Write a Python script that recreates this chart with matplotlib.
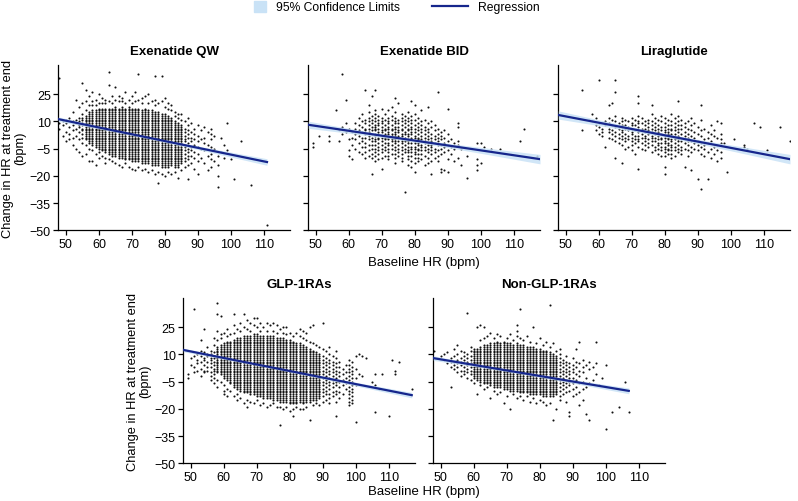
import matplotlib
matplotlib.use("Agg")
import numpy as np
import matplotlib.pyplot as plt
from matplotlib.patches import Patch
from matplotlib.lines import Line2D

plt.rcParams['font.family'] = ['Liberation Sans', 'DejaVu Sans']

# baseline HR (x) -> changes in HR (y), column by column
qw_cols = [
    (48, [34, 9, 6]),
    (49, [10, 8, 2]),
    (50, [11, 9, 4, -1]),
    (51, [12, 7, 3, 0]),
    (52, [15, 10, 8, 5, 1, -3]),
    (53, [22, 11, 9, 6, 2, -5]),
    (54, [18, 12, 10, 8, 7, 4, 0, -7]),
    (55, [31, 20, 14, 12, 11, 9, 8, 6, 5, 3, 1, -2, -9]),
    (56, [27, 21, 16, 13, 12, 11, 10, 9, 8, 7, 6, 5, 4, 3, 2, 1, 0, -3, -8]),
    (57, [24, 19, 15, 14, 13, 12, 11, 10, 9, 8, 7, 6, 5, 4, 3, 2, 1, 0, -1, -2, -5, -12]),
    (58, [26, 21, 19, 16, 15, 14, 13, 12, 11, 10, 9, 8, 7, 6, 5, 4, 3, 2, 1, 0, -1, -2, -3, -6, -12]),
    (59, [22, 19, 16, 15, 14, 13, 12, 11, 10, 9, 8, 7, 6, 5, 4, 3, 2, 1, 0, -1, -2, -3, -4, -8, -14]),
    (60, [25, 20, 17, 16, 15, 14, 13, 12, 11, 10, 9, 8, 7, 6, 5, 4, 3, 2, 1, 0, -1, -2, -3, -4, -5, -7, -10]),
    (61, [23, 20, 17, 16, 15, 14, 13, 12, 11, 10, 9, 8, 7, 6, 5, 4, 3, 2, 1, 0, -1, -2, -3, -4, -5, -6, -9]),
    (62, [22, 20, 17, 16, 15, 14, 13, 12, 11, 10, 9, 8, 7, 6, 5, 4, 3, 2, 1, 0, -1, -2, -3, -4, -5, -6, -7, -10, -13]),
    (63, [37, 30, 21, 17, 16, 15, 14, 13, 12, 11, 10, 9, 8, 7, 6, 5, 4, 3, 2, 1, 0, -1, -2, -3, -4, -5, -6, -7, -8, -11]),
    (64, [24, 20, 17, 16, 15, 14, 13, 12, 11, 10, 9, 8, 7, 6, 5, 4, 3, 2, 1, 0, -1, -2, -3, -4, -5, -6, -7, -8, -9, -12]),
    (65, [29, 22, 18, 17, 16, 15, 14, 13, 12, 11, 10, 9, 8, 7, 6, 5, 4, 3, 2, 1, 0, -1, -2, -3, -4, -5, -6, -7, -8, -9, -13]),
    (66, [24, 21, 17, 16, 15, 14, 13, 12, 11, 10, 9, 8, 7, 6, 5, 4, 3, 2, 1, 0, -1, -2, -3, -4, -5, -6, -7, -8, -9, -10, -14]),
    (67, [23, 21, 18, 17, 16, 15, 14, 13, 12, 11, 10, 9, 8, 7, 6, 5, 4, 3, 2, 1, 0, -1, -2, -3, -4, -5, -6, -7, -8, -9, -10, -15]),
    (68, [26, 20, 17, 16, 15, 14, 13, 12, 11, 10, 9, 8, 7, 6, 5, 4, 3, 2, 1, 0, -1, -2, -3, -4, -5, -6, -7, -8, -9, -10, -11, -13]),
    (69, [22, 18, 17, 16, 15, 14, 13, 12, 11, 10, 9, 8, 7, 6, 5, 4, 3, 2, 1, 0, -1, -2, -3, -4, -5, -6, -7, -8, -9, -10, -11, -15]),
    (70, [24, 20, 17, 16, 15, 14, 13, 12, 11, 10, 9, 8, 7, 6, 5, 4, 3, 2, 1, 0, -1, -2, -3, -4, -5, -6, -7, -8, -9, -10, -11, -12, -16]),
    (71, [26, 21, 17, 16, 15, 14, 13, 12, 11, 10, 9, 8, 7, 6, 5, 4, 3, 2, 1, 0, -1, -2, -3, -4, -5, -6, -7, -8, -9, -10, -11, -12, -17]),
    (72, [36, 22, 17, 16, 15, 14, 13, 12, 11, 10, 9, 8, 7, 6, 5, 4, 3, 2, 1, 0, -1, -2, -3, -4, -5, -6, -7, -8, -9, -10, -11, -12, -15]),
    (73, [23, 20, 16, 15, 14, 13, 12, 11, 10, 9, 8, 7, 6, 5, 4, 3, 2, 1, 0, -1, -2, -3, -4, -5, -6, -7, -8, -9, -10, -11, -12, -13, -17]),
    (74, [24, 17, 16, 15, 14, 13, 12, 11, 10, 9, 8, 7, 6, 5, 4, 3, 2, 1, 0, -1, -2, -3, -4, -5, -6, -7, -8, -9, -10, -11, -12, -13, -16]),
    (75, [25, 20, 16, 15, 14, 13, 12, 11, 10, 9, 8, 7, 6, 5, 4, 3, 2, 1, 0, -1, -2, -3, -4, -5, -6, -7, -8, -9, -10, -11, -12, -13, -18]),
    (76, [21, 16, 15, 14, 13, 12, 11, 10, 9, 8, 7, 6, 5, 4, 3, 2, 1, 0, -1, -2, -3, -4, -5, -6, -7, -8, -9, -10, -11, -12, -13, -14, -17]),
    (77, [35, 22, 19, 15, 14, 13, 12, 11, 10, 9, 8, 7, 6, 5, 4, 3, 2, 1, 0, -1, -2, -3, -4, -5, -6, -7, -8, -9, -10, -11, -12, -13, -14, -19]),
    (78, [20, 15, 14, 13, 12, 11, 10, 9, 8, 7, 6, 5, 4, 3, 2, 1, 0, -1, -2, -3, -4, -5, -6, -7, -8, -9, -10, -11, -12, -13, -14, -18, -24]),
    (79, [35, 21, 14, 13, 12, 11, 10, 9, 8, 7, 6, 5, 4, 3, 2, 1, 0, -1, -2, -3, -4, -5, -6, -7, -8, -9, -10, -11, -12, -13, -14, -15, -19]),
    (80, [23, 18, 14, 13, 12, 11, 10, 9, 8, 7, 6, 5, 4, 3, 2, 1, 0, -1, -2, -3, -4, -5, -6, -7, -8, -9, -10, -11, -12, -13, -14, -15, -20]),
    (81, [20, 17, 13, 12, 11, 10, 9, 8, 7, 6, 5, 4, 3, 2, 1, 0, -1, -2, -3, -4, -5, -6, -7, -8, -9, -10, -11, -12, -13, -14, -15, -18]),
    (82, [19, 16, 12, 11, 10, 9, 8, 7, 6, 5, 4, 3, 2, 1, 0, -1, -2, -3, -4, -5, -6, -7, -8, -9, -10, -11, -12, -13, -14, -19]),
    (83, [15, 13, 10, 9, 8, 7, 6, 5, 4, 3, 2, 1, 0, -1, -2, -3, -4, -5, -6, -7, -8, -9, -10, -11, -12, -13, -14, -15, -18]),
    (84, [14, 12, 9, 8, 7, 6, 5, 4, 3, 2, 1, 0, -1, -2, -3, -4, -5, -6, -7, -8, -9, -10, -11, -12, -13, -14, -15, -21]),
    (85, [14, 11, 8, 7, 6, 5, 4, 3, 2, 1, 0, -1, -2, -3, -4, -5, -6, -7, -8, -9, -10, -11, -12, -13, -17]),
    (86, [10, 6, 4, 2, 0, -1, -3, -4, -6, -8, -10, -12, -15]),
    (87, [12, 8, 5, 3, 1, -2, -5, -7, -9, -11, -14, -22]),
    (88, [9, 4, 1, -1, -4, -6, -9, -13]),
    (89, [6, 3, 0, -3, -7, -10, -16]),
    (90, [8, 2, -1, -4, -8, -12, -19]),
    (91, [5, 0, -5, -10]),
    (92, [7, 1, -2, -6, -13]),
    (93, [4, -3, -9, -17]),
    (94, [6, 3, 0, -4, -8, -11, -15]),
    (95, [2, -5, -12]),
    (96, [-9, -14, -20, -26]),
    (97, [1, -7]),
    (98, [-3, -10]),
    (99, [9, -6]),
    (100, [-11]),
    (101, [-22]),
    (103, [-1]),
    (106, [-25]),
    (111, [-47]),
]

bid_cols = [
    (49, [-2, -4]),
    (51, [2]),
    (54, [2, -1]),
    (56, [16]),
    (57, [5, -1]),
    (58, [36, 7, 3]),
    (59, [22, 9, 4]),
    (60, [6, 0, -6, -9]),
    (61, [4, 1, -3, -11]),
    (62, [9, 6, 3, 0, -5]),
    (63, [12, 8, 5, 2, -2, -7]),
    (64, [14, 10, 7, 4, 1, -1, -4, -8]),
    (65, [27, 11, 9, 6, 5, 3, 1, -2, -4, -7, -10]),
    (66, [19, 15, 12, 10, 8, 6, 4, 2, 0, -3, -6, -9]),
    (67, [24, 13, 11, 9, 7, 5, 3, 1, -1, -3, -5, -8, -10, -19]),
    (68, [27, 16, 14, 12, 10, 8, 7, 6, 5, 3, 2, 0, -1, -3, -5, -7, -9, -12]),
    (69, [13, 11, 9, 8, 6, 4, 3, 1, 0, -2, -4, -6, -8, -11]),
    (70, [17, 12, 10, 9, 7, 5, 4, 2, 1, -1, -3, -5, -7, -10, -16]),
    (71, [14, 11, 8, 6, 5, 3, 1, 0, -2, -4, -6, -9]),
    (72, [16, 12, 10, 9, 7, 6, 4, 3, 1, 0, -2, -3, -5, -7, -9, -11]),
    (73, [18, 13, 11, 8, 6, 5, 3, 2, 0, -1, -3, -5, -8]),
    (74, [23, 15, 12, 10, 9, 7, 6, 4, 3, 2, 0, -1, -2, -4, -6, -8, -10, -13]),
    (75, [20, 11, 9, 7, 5, 4, 2, 1, -1, -3, -5, -7, -9]),
    (76, [14, 12, 10, 8, 6, 5, 3, 2, 0, -1, -2, -4, -6, -8, -10, -12]),
    (77, [13, 11, 9, 7, 4, 3, 1, -1, -3, -5, -7, -29]),
    (78, [15, 12, 10, 8, 6, 5, 3, 2, 0, -1, -2, -4, -6, -7, -9, -11, -14]),
    (79, [21, 13, 11, 9, 7, 6, 4, 3, 1, 0, -2, -4, -5, -7, -9, -12, -15]),
    (80, [19, 14, 11, 8, 6, 4, 2, 1, -1, -2, -4, -5, -7, -8, -10, -13, -18]),
    (81, [12, 9, 7, 5, 3, 1, 0, -2, -3, -5, -6, -8, -10, -12]),
    (82, [16, 10, 8, 6, 4, 2, 0, -1, -3, -4, -6, -8, -11]),
    (83, [11, 7, 5, 3, 1, -1, -2, -4, -6, -9, -14]),
    (84, [18, 9, 6, 4, 2, 0, -2, -3, -5, -7, -10, -13]),
    (85, [10, 7, 3, 1, -1, -3, -4, -6, -8, -12, -19]),
    (86, [8, 5, 2, 0, -2, -5, -7, -10]),
    (87, [26, 6, 3, 1, -1, -3, -6, -9, -12]),
    (88, [4, 2, 0, -3, -5, -8, -16, -18]),
    (89, [5, 1, -2, -4, -7, -17]),
    (90, [17, 3, -1, -3, -6, -11, -18]),
    (91, [0, -4, -8]),
    (92, [-2, -5, -12]),
    (93, [9, 7, -1, -3, -10]),
    (94, [-5, -14]),
    (96, [-9, -21]),
    (99, [-2, -11, -14, -17]),
    (100, [-2, -13]),
    (101, [-4]),
    (103, [-5]),
    (106, [-5]),
    (112, [-1]),
    (113, [6]),
    (117, [-9]),
]

lira_cols = [
    (55, [27, 5]),
    (57, [11]),
    (58, [14, 10]),
    (59, [12, 8, 5]),
    (60, [33, 9, 7, 3]),
    (61, [6, 4, 2]),
    (62, [10, 8, -4]),
    (63, [19, 12, 9, 6, 4, 1]),
    (64, [20, 11, 8, 5, 3, 0]),
    (65, [33, 26, 13, 10, 7, 4, 2, -1, -10]),
    (66, [9, 6, 3, 1, -2]),
    (67, [12, 10, 8, 7, 5, 4, 2, 0, -3, -13]),
    (68, [11, 8, 6, 3, 1, -1, -5]),
    (69, [10, 7, 5, 2, 0, -4]),
    (70, [12, 9, 8, 6, 4, 3, 1, -1, -3, -6]),
    (71, [11, 8, 5, 2, 0, -2, -8]),
    (72, [24, 20, 13, 10, 9, 7, 5, 4, 2, 0, -1, -4, -16]),
    (73, [12, 9, 6, 3, 1, -2, -5]),
    (74, [10, 8, 6, 4, 2, 1, -1, -3, -6]),
    (75, [11, 9, 7, 5, 3, 0, -2, -4]),
    (76, [19, 14, 10, 8, 6, 4, 2, 1, -1, -3, -7]),
    (77, [12, 9, 7, 5, 3, 1, -1, -4, -6]),
    (78, [11, 8, 6, 4, 2, 0, -2, -3, -5, -8]),
    (79, [13, 10, 7, 5, 3, 1, 0, -2, -4, -6, -9]),
    (80, [12, 9, 7, 5, 4, 2, 1, -1, -2, -4, -5, -7, -9, -15, -19]),
    (81, [11, 8, 6, 4, 3, 1, 0, -2, -3, -5, -6, -8]),
    (82, [14, 10, 8, 6, 5, 3, 2, 0, -1, -3, -4, -6, -8, -10]),
    (83, [12, 9, 7, 5, 3, 1, 0, -2, -4, -6, -9]),
    (84, [21, 13, 10, 8, 6, 4, 2, 0, -1, -3, -5, -7]),
    (85, [11, 8, 6, 3, 1, -1, -4, -6, -8]),
    (86, [9, 7, 4, 2, 0, -2, -5, -15]),
    (87, [10, 6, 3, 1, -1, -3, -6, -9]),
    (88, [12, 8, 5, 2, -1, -4, -7, -17]),
    (89, [9, 4, 1, -2, -5]),
    (90, [7, 3, -1, -3, -6, -22]),
    (91, [19, 11, 5, 2, -2, -4, -8, -27]),
    (92, [6, 0, -3, -5, -9]),
    (93, [4, 1, -2, -7, -22]),
    (94, [8, 3, -1, -5, -10]),
    (95, [5, 2, -4, -8]),
    (96, [10, 1, -3, -6, -12]),
    (97, [9, 3, 0, -2, -7, -10]),
    (98, [-2]),
    (99, [-18]),
    (101, [0]),
    (104, [-3, -4]),
    (105, [-5]),
    (107, [9]),
    (109, [7]),
    (111, [-6]),
    (115, [7]),
    (118, [-1]),
]

glp_cols = [
    (49, [-1, -3]),
    (50, [8, 4]),
    (51, [35, 9, 3, 0]),
    (52, [10, 7, 5, 1]),
    (53, [18, 12, 9, 6, 2, -2]),
    (54, [24, 11, 8, 7, 4, 1, 0]),
    (55, [14, 10, 9, 6, 3, 1]),
    (56, [12, 10, 8, 7, 5, 3, 0, -2, -4]),
    (57, [19, 15, 11, 9, 8, 6, 4, 2, 1, -1, -3, -6]),
    (58, [38, 32, 23, 18, 14, 13, 12, 11, 10, 9, 8, 7, 6, 5, 4, 3, 2, 1, 0, -4, -8]),
    (59, [31, 21, 19, 15, 14, 13, 12, 11, 10, 9, 8, 7, 6, 5, 4, 3, 2, 1, 0, -1, -5]),
    (60, [22, 16, 15, 14, 13, 12, 11, 10, 9, 8, 7, 6, 5, 4, 3, 2, 1, 0, -1, -2, -3, -7, -10, -12]),
    (61, [24, 20, 17, 16, 15, 14, 13, 12, 11, 10, 9, 8, 7, 6, 5, 4, 3, 2, 1, 0, -1, -2, -3, -4, -9, -13]),
    (62, [21, 17, 16, 15, 14, 13, 12, 11, 10, 9, 8, 7, 6, 5, 4, 3, 2, 1, 0, -1, -2, -3, -4, -5, -6, -10]),
    (63, [32, 26, 22, 18, 17, 16, 15, 14, 13, 12, 11, 10, 9, 8, 7, 6, 5, 4, 3, 2, 1, 0, -1, -2, -3, -4, -5, -6, -7, -8, -13]),
    (64, [24, 19, 18, 17, 16, 15, 14, 13, 12, 11, 10, 9, 8, 7, 6, 5, 4, 3, 2, 1, 0, -1, -2, -3, -4, -5, -6, -7, -8, -9, -12, -15]),
    (65, [27, 23, 19, 18, 17, 16, 15, 14, 13, 12, 11, 10, 9, 8, 7, 6, 5, 4, 3, 2, 1, 0, -1, -2, -3, -4, -5, -6, -7, -8, -9, -10, -14]),
    (66, [32, 25, 20, 19, 18, 17, 16, 15, 14, 13, 12, 11, 10, 9, 8, 7, 6, 5, 4, 3, 2, 1, 0, -1, -2, -3, -4, -5, -6, -7, -8, -9, -10, -11, -17]),
    (67, [29, 24, 20, 19, 18, 17, 16, 15, 14, 13, 12, 11, 10, 9, 8, 7, 6, 5, 4, 3, 2, 1, 0, -1, -2, -3, -4, -5, -6, -7, -8, -9, -10, -11, -15, -19]),
    (68, [27, 23, 20, 19, 18, 17, 16, 15, 14, 13, 12, 11, 10, 9, 8, 7, 6, 5, 4, 3, 2, 1, 0, -1, -2, -3, -4, -5, -6, -7, -8, -9, -10, -11, -12, -16]),
    (69, [30, 26, 21, 20, 19, 18, 17, 16, 15, 14, 13, 12, 11, 10, 9, 8, 7, 6, 5, 4, 3, 2, 1, 0, -1, -2, -3, -4, -5, -6, -7, -8, -9, -10, -11, -12, -17]),
    (70, [30, 25, 21, 20, 19, 18, 17, 16, 15, 14, 13, 12, 11, 10, 9, 8, 7, 6, 5, 4, 3, 2, 1, 0, -1, -2, -3, -4, -5, -6, -7, -8, -9, -10, -11, -12, -13, -15]),
    (71, [27, 23, 20, 19, 18, 17, 16, 15, 14, 13, 12, 11, 10, 9, 8, 7, 6, 5, 4, 3, 2, 1, 0, -1, -2, -3, -4, -5, -6, -7, -8, -9, -10, -11, -12, -13, -18]),
    (72, [25, 20, 19, 18, 17, 16, 15, 14, 13, 12, 11, 10, 9, 8, 7, 6, 5, 4, 3, 2, 1, 0, -1, -2, -3, -4, -5, -6, -7, -8, -9, -10, -11, -12, -13, -14, -17]),
    (73, [27, 23, 20, 19, 18, 17, 16, 15, 14, 13, 12, 11, 10, 9, 8, 7, 6, 5, 4, 3, 2, 1, 0, -1, -2, -3, -4, -5, -6, -7, -8, -9, -10, -11, -12, -13, -14, -19]),
    (74, [26, 20, 19, 18, 17, 16, 15, 14, 13, 12, 11, 10, 9, 8, 7, 6, 5, 4, 3, 2, 1, 0, -1, -2, -3, -4, -5, -6, -7, -8, -9, -10, -11, -12, -13, -14, -18]),
    (75, [27, 23, 20, 19, 18, 17, 16, 15, 14, 13, 12, 11, 10, 9, 8, 7, 6, 5, 4, 3, 2, 1, 0, -1, -2, -3, -4, -5, -6, -7, -8, -9, -10, -11, -12, -13, -14, -15, -17]),
    (76, [26, 22, 19, 18, 17, 16, 15, 14, 13, 12, 11, 10, 9, 8, 7, 6, 5, 4, 3, 2, 1, 0, -1, -2, -3, -4, -5, -6, -7, -8, -9, -10, -11, -12, -13, -14, -15, -19]),
    (77, [24, 19, 18, 17, 16, 15, 14, 13, 12, 11, 10, 9, 8, 7, 6, 5, 4, 3, 2, 1, 0, -1, -2, -3, -4, -5, -6, -7, -8, -9, -10, -11, -12, -13, -14, -15, -16, -19, -29]),
    (78, [25, 22, 19, 18, 17, 16, 15, 14, 13, 12, 11, 10, 9, 8, 7, 6, 5, 4, 3, 2, 1, 0, -1, -2, -3, -4, -5, -6, -7, -8, -9, -10, -11, -12, -13, -14, -15, -16, -20]),
    (79, [25, 21, 18, 17, 16, 15, 14, 13, 12, 11, 10, 9, 8, 7, 6, 5, 4, 3, 2, 1, 0, -1, -2, -3, -4, -5, -6, -7, -8, -9, -10, -11, -12, -13, -14, -15, -16, -19]),
    (80, [22, 18, 17, 16, 15, 14, 13, 12, 11, 10, 9, 8, 7, 6, 5, 4, 3, 2, 1, 0, -1, -2, -3, -4, -5, -6, -7, -8, -9, -10, -11, -12, -13, -14, -15, -16, -17, -21]),
    (81, [20, 17, 16, 15, 14, 13, 12, 11, 10, 9, 8, 7, 6, 5, 4, 3, 2, 1, 0, -1, -2, -3, -4, -5, -6, -7, -8, -9, -10, -11, -12, -13, -14, -15, -16, -17, -20, -24]),
    (82, [22, 16, 15, 14, 13, 12, 11, 10, 9, 8, 7, 6, 5, 4, 3, 2, 1, 0, -1, -2, -3, -4, -5, -6, -7, -8, -9, -10, -11, -12, -13, -14, -15, -16, -17, -19]),
    (83, [24, 20, 16, 15, 14, 13, 12, 11, 10, 9, 8, 7, 6, 5, 4, 3, 2, 1, 0, -1, -2, -3, -4, -5, -6, -7, -8, -9, -10, -11, -12, -13, -14, -15, -16, -20]),
    (84, [23, 19, 15, 14, 13, 12, 11, 10, 9, 8, 7, 6, 5, 4, 3, 2, 1, 0, -1, -2, -3, -4, -5, -6, -7, -8, -9, -10, -11, -12, -13, -14, -15, -16, -17, -20]),
    (85, [22, 18, 14, 13, 12, 11, 10, 9, 8, 7, 6, 5, 4, 3, 2, 1, 0, -1, -2, -3, -4, -5, -6, -7, -8, -9, -10, -11, -12, -13, -14, -15, -16, -19]),
    (86, [25, 17, 13, 12, 11, 10, 9, 8, 7, 6, 5, 4, 3, 2, 1, 0, -1, -2, -3, -4, -5, -6, -7, -8, -9, -10, -11, -12, -13, -14, -15, -16, -26]),
    (87, [26, 16, 12, 11, 10, 9, 8, 7, 6, 5, 4, 3, 2, 1, 0, -1, -2, -3, -4, -5, -6, -7, -8, -9, -10, -11, -12, -13, -14, -15, -18]),
    (88, [15, 11, 10, 9, 8, 7, 6, 5, 4, 3, 2, 1, 0, -1, -2, -3, -4, -5, -6, -7, -8, -9, -10, -11, -12, -13, -14, -15, -17]),
    (89, [14, 10, 9, 8, 7, 6, 5, 4, 3, 2, 1, 0, -1, -2, -3, -4, -5, -6, -7, -8, -9, -10, -11, -12, -13, -14, -18]),
    (90, [27, 13, 9, 7, 5, 3, 1, -1, -3, -5, -7, -9, -11, -13, -16]),
    (91, [12, 8, 6, 4, 2, 0, -2, -4, -6, -8, -10, -12, -15]),
    (92, [14, 10, 7, 5, 3, 1, -1, -3, -5, -7, -9, -12, -14, -17]),
    (93, [9, 6, 4, 2, 0, -2, -4, -6, -8, -11, -13]),
    (94, [12, 8, 5, 3, 1, -1, -3, -5, -7, -10, -12, -16, -24]),
    (95, [6, 3, 0, -2, -5, -8, -11, -14]),
    (96, [2, -1, -4, -7, -12]),
    (97, [4, 0, -3, -6, -9]),
    (98, [7, 4, 2, 0, -2, -4, -6, -8, -10, -12, -14, -16, -18]),
    (99, [6, 3, 1, -1, -3, -5, -7, -9, -11, -13, -15, -17]),
    (100, [9, 2, -3, -7, -27]),
    (101, [10, -1]),
    (102, [9, -2]),
    (103, [8]),
    (105, [-5]),
    (106, [-1, -7, -22]),
    (107, [-9]),
    (108, [-1]),
    (110, [-24]),
    (111, [7]),
    (112, [1, -1]),
    (113, [6]),
    (117, [-9]),
]

non_cols = [
    (48, [12]),
    (50, [9]),
    (51, [10, 7]),
    (52, [11, 5]),
    (53, [8, 6, 3, -8]),
    (54, [13, 9, 6, 4, 2]),
    (55, [15, 10, 7, 5, 3, 0]),
    (56, [12, 8, 6, 4, 1, -2]),
    (57, [11, 9, 7, 5, 3, 1, -1]),
    (58, [33, 10, 8, 6, 4, 2, 0, -3]),
    (59, [14, 12, 9, 7, 5, 3, 1, -1, -4]),
    (60, [13, 12, 11, 10, 9, 8, 7, 6, 5, 4, 3, 2, 1, 0, -1, -2, -3, -6]),
    (61, [25, 13, 12, 11, 10, 9, 8, 7, 6, 5, 4, 3, 2, 1, 0, -1, -2, -3, -4, -12]),
    (62, [26, 18, 14, 13, 12, 11, 10, 9, 8, 7, 6, 5, 4, 3, 2, 1, 0, -1, -2, -3, -4, -5, -7]),
    (63, [25, 19, 15, 14, 13, 12, 11, 10, 9, 8, 7, 6, 5, 4, 3, 2, 1, 0, -1, -2, -3, -4, -5, -6, -9]),
    (64, [20, 15, 14, 13, 12, 11, 10, 9, 8, 7, 6, 5, 4, 3, 2, 1, 0, -1, -2, -3, -4, -5, -6, -8]),
    (65, [22, 16, 15, 14, 13, 12, 11, 10, 9, 8, 7, 6, 5, 4, 3, 2, 1, 0, -1, -2, -3, -4, -5, -6, -7, -14]),
    (66, [19, 16, 15, 14, 13, 12, 11, 10, 9, 8, 7, 6, 5, 4, 3, 2, 1, 0, -1, -2, -3, -4, -5, -6, -7, -8, -10]),
    (67, [21, 17, 16, 15, 14, 13, 12, 11, 10, 9, 8, 7, 6, 5, 4, 3, 2, 1, 0, -1, -2, -3, -4, -5, -6, -7, -8, -12]),
    (68, [20, 16, 15, 14, 13, 12, 11, 10, 9, 8, 7, 6, 5, 4, 3, 2, 1, 0, -1, -2, -3, -4, -5, -6, -7, -8, -11]),
    (69, [17, 16, 15, 14, 13, 12, 11, 10, 9, 8, 7, 6, 5, 4, 3, 2, 1, 0, -1, -2, -3, -4, -5, -6, -7, -8, -9, -17]),
    (70, [19, 16, 15, 14, 13, 12, 11, 10, 9, 8, 7, 6, 5, 4, 3, 2, 1, 0, -1, -2, -3, -4, -5, -6, -7, -8, -9, -13]),
    (71, [21, 16, 15, 14, 13, 12, 11, 10, 9, 8, 7, 6, 5, 4, 3, 2, 1, 0, -1, -2, -3, -4, -5, -6, -7, -8, -9, -10, -20]),
    (72, [18, 15, 14, 13, 12, 11, 10, 9, 8, 7, 6, 5, 4, 3, 2, 1, 0, -1, -2, -3, -4, -5, -6, -7, -8, -9, -10, -12]),
    (73, [26, 23, 20, 16, 15, 14, 13, 12, 11, 10, 9, 8, 7, 6, 5, 4, 3, 2, 1, 0, -1, -2, -3, -4, -5, -6, -7, -8, -9, -10, -14]),
    (74, [35, 19, 15, 14, 13, 12, 11, 10, 9, 8, 7, 6, 5, 4, 3, 2, 1, 0, -1, -2, -3, -4, -5, -6, -7, -8, -9, -10, -11, -13]),
    (75, [18, 15, 14, 13, 12, 11, 10, 9, 8, 7, 6, 5, 4, 3, 2, 1, 0, -1, -2, -3, -4, -5, -6, -7, -8, -9, -10, -11, -15]),
    (76, [20, 14, 13, 12, 11, 10, 9, 8, 7, 6, 5, 4, 3, 2, 1, 0, -1, -2, -3, -4, -5, -6, -7, -8, -9, -10, -11, -13]),
    (77, [17, 14, 13, 12, 11, 10, 9, 8, 7, 6, 5, 4, 3, 2, 1, 0, -1, -2, -3, -4, -5, -6, -7, -8, -9, -10, -11, -12, -16]),
    (78, [25, 14, 13, 12, 11, 10, 9, 8, 7, 6, 5, 4, 3, 2, 1, 0, -1, -2, -3, -4, -5, -6, -7, -8, -9, -10, -11, -12, -14]),
    (79, [16, 13, 12, 11, 10, 9, 8, 7, 6, 5, 4, 3, 2, 1, 0, -1, -2, -3, -4, -5, -6, -7, -8, -9, -10, -11, -12, -17]),
    (80, [19, 13, 12, 11, 10, 9, 8, 7, 6, 5, 4, 3, 2, 1, 0, -1, -2, -3, -4, -5, -6, -7, -8, -9, -10, -11, -12, -15]),
    (81, [15, 12, 11, 10, 9, 8, 7, 6, 5, 4, 3, 2, 1, 0, -1, -2, -3, -4, -5, -6, -7, -8, -9, -10, -11, -12, -13, -16]),
    (82, [17, 12, 11, 10, 9, 8, 7, 6, 5, 4, 3, 2, 1, 0, -1, -2, -3, -4, -5, -6, -7, -8, -9, -10, -11, -12, -13, -18]),
    (83, [37, 14, 11, 10, 9, 8, 7, 6, 5, 4, 3, 2, 1, 0, -1, -2, -3, -4, -5, -6, -7, -8, -9, -10, -11, -12, -13, -17]),
    (84, [16, 10, 9, 8, 7, 6, 5, 4, 3, 2, 1, 0, -1, -2, -3, -4, -5, -6, -7, -8, -9, -10, -11, -12, -13, -26]),
    (85, [12, 9, 8, 7, 6, 5, 4, 3, 2, 1, 0, -1, -2, -3, -4, -5, -6, -7, -8, -9, -10, -11, -12, -20]),
    (86, [13, 10, 8, 6, 4, 2, 0, -2, -4, -6, -8, -10, -13, -15]),
    (87, [7, 5, 3, 1, -1, -3, -5, -7, -9, -12]),
    (88, [9, 6, 4, 2, 0, -2, -4, -6, -8, -11, -16]),
    (89, [5, 3, 1, -1, -3, -5, -7, -10, -22, -24]),
    (90, [8, 4, 2, 0, -3, -6, -9, -13]),
    (91, [13, 6, 3, -1, -4, -8, -12]),
    (92, [17, 5, 1, -2, -6, -11, -18]),
    (93, [7, 3, 0, -5, -9, -15]),
    (94, [4, -3, -8, -23]),
    (95, [6, 2, -6, -26]),
    (96, [3, -4]),
    (97, [17, 5, -1]),
    (98, [-7]),
    (99, [-3]),
    (100, [4, -31]),
    (102, [-22]),
    (104, [-19]),
    (106, [-5]),
    (107, [-22]),
]

titles = ["Exenatide QW", "Exenatide BID", "Liraglutide", "GLP-1RAs", "Non-GLP-1RAs"]
panels = [qw_cols, bid_cols, lira_cols, glp_cols, non_cols]

# regression fits (intercept, slope) and their x extent
reg_intercept = [29.0, 20.93, 30.0, 29.52, 22.4]
reg_slope = [-0.373, -0.269, -0.346, -0.359, -0.304]
reg_xmin = [47.7, 47.7, 47.7, 47.7, 47.7]
reg_xmax = [111, 118, 118, 117, 107]
# 95% CL half widths: at the centre of the data and at the right end
ci_center = [72, 77, 80, 74, 73]
ci_mid = [0.6, 0.9, 1.0, 0.5, 0.6]
ci_end = [1.8, 2.6, 2.6, 1.5, 1.6]

x_ticks = [50, 60, 70, 80, 90, 100, 110]
y_ticks = [-50, -35, -20, -5, 10, 25]

band_color = "#c9e2f6"
line_color = "#16268c"

fig = plt.figure(figsize=(7.98, 5.02), dpi=100)
W, H = 0.2904, 0.3293
boxes = [
    [0.0731, 0.5392, W, H],
    [0.3863, 0.5392, W, H],
    [0.6996, 0.5392, W, H],
    [0.2297, 0.0751, W, H],
    [0.5430, 0.0751, W, H],
]

axes = []
for i, cols in enumerate(panels):
    ax = fig.add_axes(boxes[i])
    axes.append(ax)
    xs = [c[0] for c in cols for _ in c[1]]
    ys = [y for c in cols for y in c[1]]
    ax.plot(xs, ys, ls='none', marker='o', ms=1.5, mew=0, color='#111111', zorder=2)

    lx = np.linspace(reg_xmin[i], reg_xmax[i], 200)
    ly = reg_intercept[i] + reg_slope[i] * lx
    t = (lx - ci_center[i]) / (reg_xmax[i] - ci_center[i])
    hw = np.sqrt(ci_mid[i] ** 2 + (ci_end[i] ** 2 - ci_mid[i] ** 2) * t ** 2)
    ax.fill_between(lx, ly - hw, ly + hw, color=band_color, alpha=0.85, lw=0, zorder=3)
    ax.plot(lx, ly, color=line_color, lw=1.6, zorder=4)

    ax.set_xlim(47.7, 118)
    ax.set_ylim(-50, 41)
    ax.set_xticks(x_ticks)
    ax.set_yticks(y_ticks)
    for s in ['top', 'right']:
        ax.spines[s].set_visible(False)
    for s in ['left', 'bottom']:
        ax.spines[s].set_linewidth(0.9)
    ax.tick_params(direction='out', length=3.5, width=0.9, labelsize=9, pad=2)
    ax.set_title(titles[i], fontsize=9.5, fontweight='bold', pad=8)
    if i not in (0, 3):
        ax.tick_params(labelleft=False)

ylab = "Change in HR at treatment end\n(bpm)"
axes[0].set_ylabel(ylab, fontsize=9.3, labelpad=2, linespacing=1.1)
axes[3].set_ylabel(ylab, fontsize=9.3, labelpad=2, linespacing=1.1)
axes[1].set_xlabel("Baseline HR (bpm)", fontsize=9.5, labelpad=4)
fig.text(0.531, 0.02, "Baseline HR (bpm)", fontsize=9.5, ha='center', va='center')

leg1 = fig.legend(handles=[Patch(color=band_color)], labels=["95% Confidence Limits"],
                  loc='upper left', bbox_to_anchor=(0.305, 1.018), frameon=False,
                  fontsize=8.7, handlelength=1.0, handleheight=1.0)
leg2 = fig.legend(handles=[Line2D([], [], color=line_color, lw=1.6)], labels=["Regression"],
                  loc='upper left', bbox_to_anchor=(0.528, 1.018), frameon=False,
                  fontsize=8.7, handlelength=3.0)

fig.savefig("out.png", dpi=100)
